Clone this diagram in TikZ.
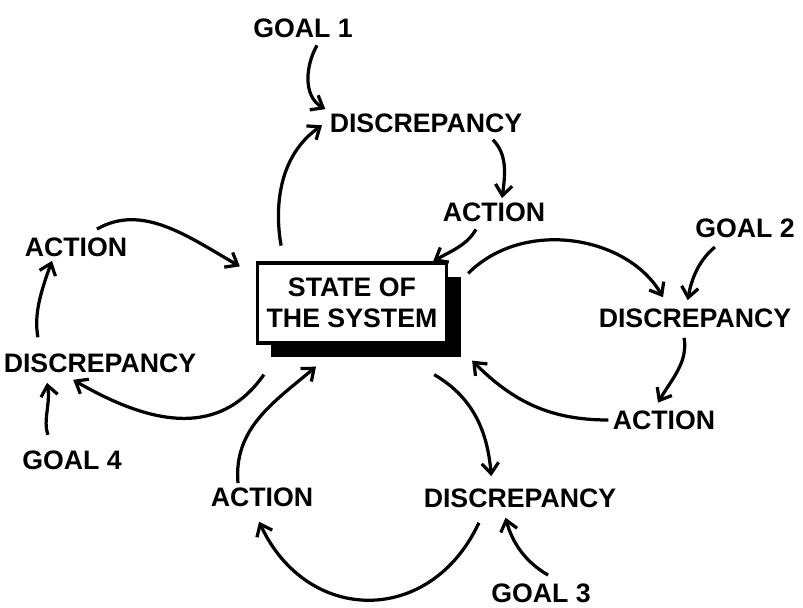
\documentclass[tikz,border=0pt]{standalone}
\usepackage{fontspec}
\setmainfont{Liberation Sans}
\usetikzlibrary{arrows.meta,shadows}

\begin{document}
\begin{tikzpicture}[x=0.025cm,y=0.025cm,line width=2.3pt,>={Straight Barb[length=7.5pt,width=12pt]},
lbl/.style = {font=\fontsize{19}{22}\selectfont\bfseries, inner sep=2pt},
stbox/.style = {draw, rectangle, fill=white, align=center, minimum width=4.725cm, minimum height=2cm,
  font=\fontsize{19}{22}\selectfont\bfseries, drop shadow={shadow xshift=3.5mm, shadow yshift=-3.5mm, fill=black, opacity=1}}]

\useasboundingbox (0,0) rectangle (803,-607);

\node[stbox] (state) at (352,-303) {STATE OF\\THE SYSTEM};

% loop 1 (top)
\node[lbl] (goalA) at (303,-28) {GOAL 1};
\node[lbl] (discA) at (426,-123) {DISCREPANCY};
\node[lbl] (actA) at (494,-212) {ACTION};
% loop 2 (right)
\node[lbl] (goalB) at (745,-228) {GOAL 2};
\node[lbl] (discB) at (695,-318) {DISCREPANCY};
\node[lbl] (actB) at (664,-420) {ACTION};
% loop 3 (bottom)
\node[lbl] (discC) at (520,-498) {DISCREPANCY};
\node[lbl] (goalC) at (541,-593) {GOAL 3};
\node[lbl] (actC) at (262,-497) {ACTION};
% loop 4 (left)
\node[lbl] (actD) at (76,-247) {ACTION};
\node[lbl] (discD) at (100,-363) {DISCREPANCY};
\node[lbl] (goalD) at (72,-460) {GOAL 4};

\draw[->, shorten <=4mm, shorten >=1mm] ([xshift=7mm]state.north west) to[out=100,in=215] (discA.west);
\draw[->, shorten <=1mm] ([xshift=4mm]goalA.south) to[out=240,in=150] (discA.north west);
\draw[->, shorten <=1mm] ([xshift=16mm]discA.south) to[out=-45,in=82] ([xshift=2mm]actA.north);
\draw[->, shorten <=1mm] ([xshift=-4mm]actA.south) to[out=-120,in=30] ([xshift=-3.75mm]state.north east);

\draw[->, shorten >=2mm] ([xshift=5mm,yshift=-3mm]state.north east) to[out=45,in=120] ([xshift=-7mm]discB.north);
\draw[->, shorten <=2mm, shorten >=1mm] ([xshift=-6mm]goalB.south) to[out=-140,in=80] ([xshift=-2mm]discB.north);
\draw[->, shorten <=1.5mm, shorten >=1mm] ([xshift=-3mm]discB.south) to[out=-80,in=60] ([xshift=-2mm]actB.north);
\draw[->] (actB.west) to[out=180,in=-45] ([xshift=6mm,yshift=-4mm]state.south east);

\draw[->, shorten >=2mm] ([xshift=-3.5mm,yshift=-7.5mm]state.south east) to[out=-30,in=95] ([xshift=-7mm]discC.north);
\draw[->, shorten <=2mm, shorten >=1.5mm] ([xshift=3.5mm]goalC.north) to[out=150,in=-75] ([xshift=-4mm]discC.south);
\draw[->, shorten <=3mm, shorten >=3mm] ([xshift=-9mm]discC.south) to[out=-115,in=-65,looseness=1.4] ([xshift=-2mm]actC.south);
\draw[->] ([xshift=-6mm]actC.north) to[out=95,in=220] ([xshift=-9mm,yshift=-5.5mm]state.south);

\draw[->, shorten >=1.5mm] ([xshift=2mm,yshift=-7.5mm]state.south west) to[out=-125,in=-30,looseness=1.1] ([xshift=-8mm]discD.south);
\draw[->, shorten <=3mm, shorten >=1.5mm] ([xshift=-5mm]goalD.north) to[out=110,in=-80] ([xshift=-13.5mm]discD.south);
\draw[->, shorten <=3mm] ([xshift=-15mm]discD.north) to[out=100,in=-110] ([xshift=-6mm]actD.south);
\draw[->, shorten <=2mm] ([xshift=3.5mm]actD.north) to[out=30,in=150] ([xshift=-4mm,yshift=-1.25mm]state.north west);

\end{tikzpicture}
\end{document}
